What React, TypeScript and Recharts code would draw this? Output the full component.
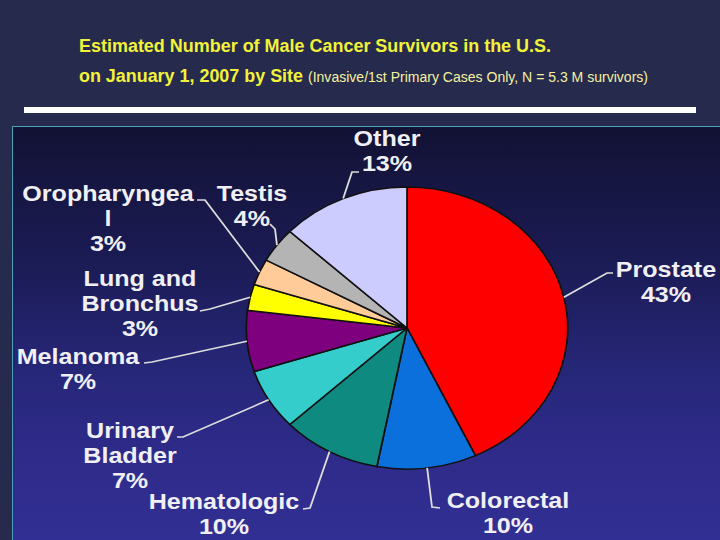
import { PieChart, Pie, Cell } from 'recharts'

const sites = ['Prostate', 'Colorectal', 'Hematologic', 'Urinary\nBladder', 'Melanoma', 'Lung and\nBronchus', 'Oropharyngea\nl', 'Testis', 'Other']
const shares = [43, 10, 10, 7, 7, 3, 3, 4, 13]
const sliceColors = ['#ff0000', '#0b6fdc', '#0f8a80', '#35cccc', '#7f007f', '#ffff00', '#ffcc99', '#b4b4b4', '#ccccff']

const titleLine1 = 'Estimated Number of Male Cancer Survivors in the U.S.'
const titleLine2 = 'on January 1, 2007 by Site'
const titleNote = '(Invasive/1st Primary Cases Only, N = 5.3 M survivors)'

// the slide is stretched sideways, so the pie is drawn round and scaled in x
const SX = 1.14
const PIE_CX = 407
const PIE_CY = 328
const PIE_R = 141
const LINE_GAP = 25

// leader elbow/end and label anchor, in page px
const labelLayout = [
  { elbow: [607, 273], end: [613, 273], tx: 666, ty: 277 },
  { elbow: [432, 507], end: [440, 508], tx: 508, ty: 508 },
  { elbow: [310, 508], end: [303, 509], tx: 224, ty: 509 },
  { elbow: [183, 437], end: [177, 437], tx: 130, ty: 438 },
  { elbow: [152, 362], end: [144, 363], tx: 78, ty: 364 },
  { elbow: [210, 309], end: [200, 311], tx: 140, ty: 286 },
  { elbow: [205, 200], end: [197, 200], tx: 108, ty: 201 },
  { elbow: [275, 229], end: [270, 224], tx: 252, ty: 201 },
  { elbow: [352, 172], end: [359, 172], tx: 387, ty: 146 },
]

const data = sites.map((name, i) => ({ name, value: shares[i] }))

const ux = (px: number) => PIE_CX + (px - PIE_CX) / SX
const RAD = Math.PI / 180

const YELLOW = '#f2f23a'
const FONT = "'Liberation Sans', Arial, sans-serif"

function SliceLabel(props: any) {
  const { cx, cy, midAngle, outerRadius, index } = props
  const lay = labelLayout[index]
  const sx = cx + outerRadius * Math.cos(-midAngle * RAD)
  const sy = cy + outerRadius * Math.sin(-midAngle * RAD)
  const pts = `${sx},${sy} ${ux(lay.elbow[0])},${lay.elbow[1]} ${ux(lay.end[0])},${lay.end[1]}`
  const lines = [...sites[index].split('\n'), `${shares[index]}%`]
  return (
    <g>
      <polyline points={pts} fill="none" stroke="#dcdcdc" strokeWidth={1.6} />
      <text x={ux(lay.tx)} y={lay.ty} textAnchor="middle" fill="#f0f0f4"
        fontFamily={FONT} fontWeight="bold" fontSize={22}>
        {lines.map((l, i) => (
          <tspan key={i} x={ux(lay.tx)} y={lay.ty + i * LINE_GAP}>{l}</tspan>
        ))}
      </text>
    </g>
  )
}

export default function App() {
  return (
    <div style={{ position: 'fixed', left: 0, top: 0, width: 720, height: 540, background: '#262a4c', overflow: 'hidden' }}>
      <svg width={720} height={100} style={{ position: 'absolute', left: 0, top: 0 }}>
        <text x={79} y={52} fill={YELLOW} fontFamily={FONT} fontWeight="bold" fontSize={18}
          textLength={472} lengthAdjust="spacingAndGlyphs">{titleLine1}</text>
        <text x={79} y={82} fill={YELLOW} fontFamily={FONT} fontWeight="bold" fontSize={18}
          textLength={224} lengthAdjust="spacingAndGlyphs">{titleLine2}</text>
        <text x={308} y={82} fill="#f4f2a0" fontFamily={FONT} fontSize={14}
          textLength={340} lengthAdjust="spacingAndGlyphs">{titleNote}</text>
      </svg>
      <div style={{ position: 'absolute', left: 24, top: 107, width: 672, height: 6, background: '#ffffff' }} />
      <div style={{
        position: 'absolute', left: 12, top: 126, right: 0, bottom: 0,
        borderLeft: '1.5px solid #4aa0b4', borderTop: '1.5px solid #4aa0b4',
        background: 'linear-gradient(to bottom, #121234 0%, #1c1c58 35%, #27277a 60%, #2e2b8a 80%, #322f94 100%)',
      }} />
      <div style={{ position: 'absolute', left: 0, top: 0, transform: `scaleX(${SX})`, transformOrigin: `${PIE_CX}px ${PIE_CY}px` }}>
        <PieChart width={720} height={540} margin={{ top: 0, right: 0, bottom: 0, left: 0 }}>
          <Pie data={data} dataKey="value" nameKey="name" cx={PIE_CX} cy={PIE_CY} outerRadius={PIE_R}
            startAngle={90} endAngle={-270} stroke="#111111" strokeWidth={1.5}
            label={SliceLabel} labelLine={false} isAnimationActive={false}>
            {data.map((d, i) => <Cell key={d.name} fill={sliceColors[i]} />)}
          </Pie>
        </PieChart>
      </div>
    </div>
  )
}
